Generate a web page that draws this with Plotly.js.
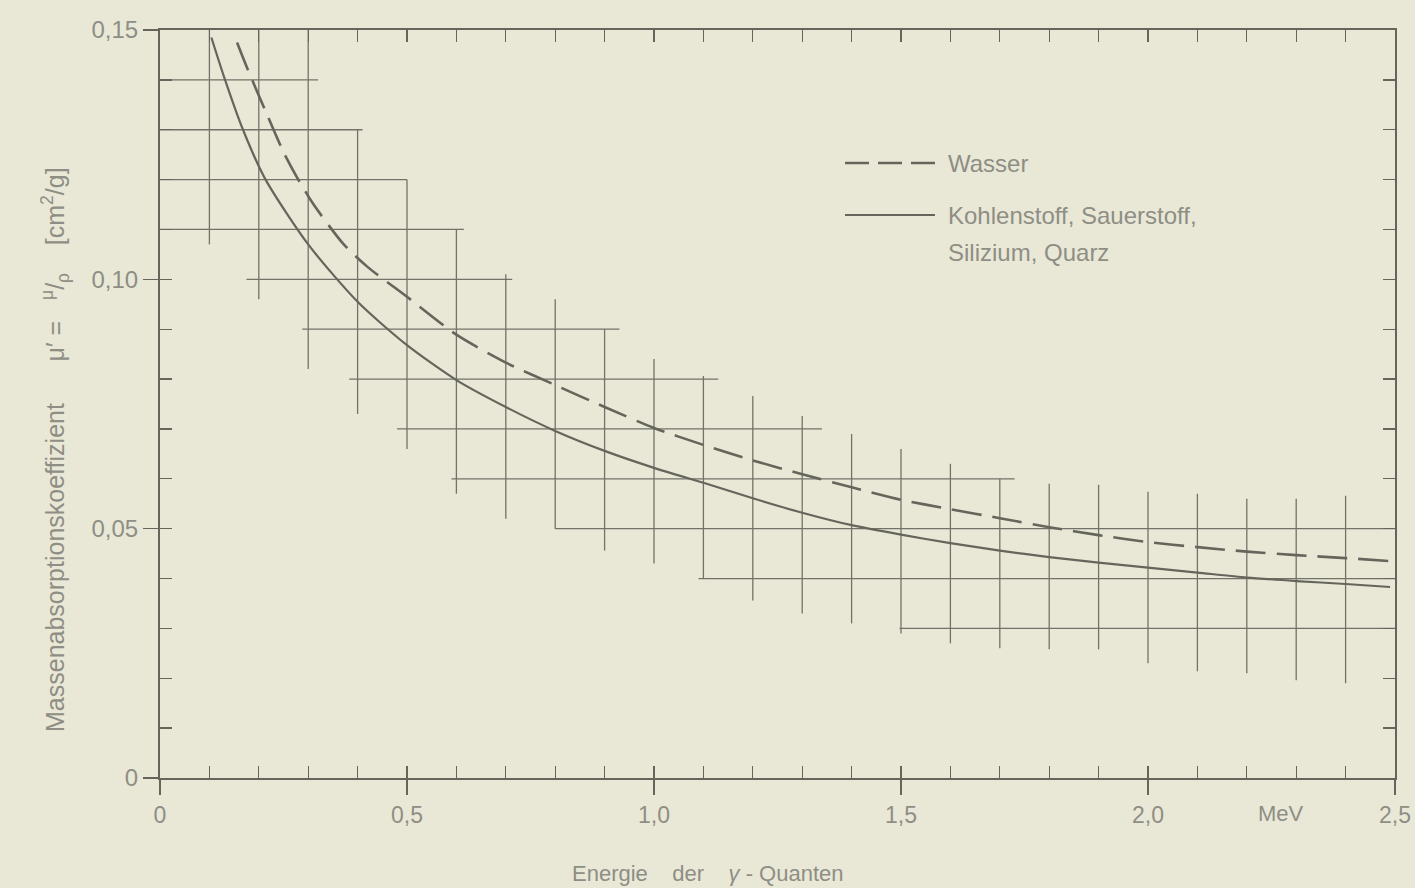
<!DOCTYPE html>
<html>
<head>
<meta charset="utf-8">
<script src="https://cdn.plot.ly/plotly-3.0.1.min.js"></script>
<style>html,body{margin:0;padding:0;background:#e9e8d7;}#chart{width:1415px;height:888px;}</style>
</head>
<body>
<div id="chart"></div>
<script>
// Kohlenstoff, Sauerstoff, Silizium, Quarz (solid)
const energyC = [0.104, 0.13, 0.166, 0.2126, 0.3, 0.4, 0.5, 0.6, 0.7, 0.8, 0.9, 1.0, 1.1, 1.2, 1.3, 1.4, 1.5, 1.6, 1.7, 1.8, 1.9, 2.0, 2.1, 2.2, 2.3, 2.4, 2.49];
const muC     = [0.1485, 0.1405, 0.1305, 0.1202, 0.107, 0.0955, 0.0868, 0.0798, 0.0744, 0.0696, 0.0656, 0.0622, 0.0592, 0.0561, 0.0532, 0.0507, 0.0488, 0.0471, 0.0456, 0.0443, 0.0432, 0.0422, 0.0412, 0.0402, 0.0395, 0.0389, 0.0383];
// Wasser (dashed)
const energyW = [0.156, 0.178, 0.2125, 0.25, 0.277, 0.311, 0.372, 0.42, 0.5, 0.6, 0.7, 0.8, 0.9, 1.0, 1.1, 1.2, 1.3, 1.4, 1.5, 1.6, 1.7, 1.8, 1.9, 2.0, 2.1, 2.2, 2.3, 2.4, 2.49];
const muW     = [0.1475, 0.1420, 0.1340, 0.1255, 0.1205, 0.1150, 0.1070, 0.1025, 0.0965, 0.0889, 0.0833, 0.0788, 0.0744, 0.0702, 0.0668, 0.0637, 0.0609, 0.0583, 0.0558, 0.0539, 0.0521, 0.0503, 0.0487, 0.0473, 0.0463, 0.0454, 0.0447, 0.0441, 0.0435];

// staircase grid: vertical segments
const vGridX    = [0.1, 0.2, 0.3, 0.4, 0.5, 0.6, 0.7, 0.8, 0.9, 1.0, 1.1, 1.2, 1.3, 1.4, 1.5, 1.6, 1.7, 1.8, 1.9, 2.0, 2.1, 2.2, 2.3, 2.4];
const vGridLow  = [0.107, 0.096, 0.082, 0.073, 0.066, 0.057, 0.052, 0.050, 0.0456, 0.043, 0.040, 0.0356, 0.033, 0.031, 0.029, 0.027, 0.026, 0.0258, 0.0258, 0.023, 0.0214, 0.021, 0.0196, 0.019];
const vGridHigh = [0.15, 0.15, 0.15, 0.13, 0.12, 0.11, 0.101, 0.096, 0.090, 0.084, 0.0806, 0.0766, 0.0726, 0.069, 0.066, 0.063, 0.060, 0.059, 0.0588, 0.0574, 0.057, 0.056, 0.056, 0.0566];
// staircase grid: horizontal segments
const hGridY     = [0.14, 0.13, 0.12, 0.11, 0.10, 0.09, 0.08, 0.07, 0.06, 0.05, 0.04, 0.03];
const hGridStart = [0, 0, 0, 0, 0.175, 0.288, 0.383, 0.48, 0.59, 0.80, 1.09, 1.497];
const hGridEnd   = [0.32, 0.41, 0.50, 0.615, 0.713, 0.93, 1.13, 1.34, 1.73, 2.5, 2.5, 2.5];

const xTickVals = [0, 0.5, 1.0, 1.5, 2.0, 2.5];
const xTickText = ['0', '0,5', '1,0', '1,5', '2,0', '2,5'];
const yTickVals = [0, 0.05, 0.10, 0.15];
const yTickText = ['0', '0,05', '0,10', '0,15'];

const ink = '#65655b';
const gridInk = '#727268';
const textInk = '#8e8e84';
const font = 'Liberation Sans, Arial, sans-serif';

const gx = [], gy = [];
vGridX.forEach((x, i) => { gx.push(x, x, null); gy.push(vGridLow[i], vGridHigh[i], null); });
hGridY.forEach((y, i) => { gx.push(hGridStart[i], hGridEnd[i], null); gy.push(y, y, null); });

const traces = [
  {x: gx, y: gy, mode: 'lines', line: {color: gridInk, width: 1.3}, hoverinfo: 'skip', showlegend: false, connectgaps: false},
  {x: energyW, y: muW, mode: 'lines', name: 'Wasser', line: {color: ink, width: 2.6, dash: '30px,11px', shape: 'spline', smoothing: 0.7}, showlegend: false},
  {x: energyC, y: muC, mode: 'lines', name: 'Kohlenstoff, Sauerstoff, Silizium, Quarz', line: {color: ink, width: 2.2, shape: 'spline', smoothing: 0.7}, showlegend: false},
  {x: [null], y: [null], xaxis: 'x2', yaxis: 'y2', mode: 'lines', hoverinfo: 'skip', showlegend: false}
];

const L = 160, R = 1395, T = 30, B = 778;
const px = v => (v - L) / (R - L);
const py = v => (B - v) / (B - T);

const layout = {
  width: 1415, height: 888,
  margin: {l: L, r: 1415 - R, t: T, b: 888 - B},
  paper_bgcolor: '#e9e8d7', plot_bgcolor: '#e9e8d7',
  showlegend: false,
  xaxis: {range: [0, 2.5], tickvals: xTickVals, ticktext: xTickText, ticks: 'outside', ticklen: 15, tickwidth: 1.3, tickcolor: ink,
          showline: true, linecolor: ink, linewidth: 2, mirror: true, showgrid: false, zeroline: false,
          tickfont: {family: font, size: 23, color: textInk}, fixedrange: true},
  yaxis: {range: [0, 0.15], tickvals: yTickVals, ticktext: yTickText, ticks: 'outside', ticklen: 15, tickwidth: 1.3, tickcolor: ink,
          showline: true, linecolor: ink, linewidth: 2, mirror: true, showgrid: false, zeroline: false,
          tickfont: {family: font, size: 24, color: textInk}, fixedrange: true},
  xaxis2: {overlaying: 'x', anchor: 'y2', side: 'bottom', range: [0, 2.5], dtick: 0.1, tick0: 0, ticks: 'inside', ticklen: 12, tickwidth: 1.3, tickcolor: ink,
           showticklabels: false, showline: false, mirror: 'ticks', showgrid: false, zeroline: false},
  yaxis2: {overlaying: 'y', anchor: 'x2', side: 'left', range: [0, 0.15], dtick: 0.01, tick0: 0, ticks: 'inside', ticklen: 12, tickwidth: 1.3, tickcolor: ink,
           showticklabels: false, showline: false, mirror: 'ticks', showgrid: false, zeroline: false},
  shapes: [
    {type: 'line', xref: 'paper', yref: 'paper', x0: px(845), x1: px(935), y0: py(163), y1: py(163), line: {color: ink, width: 2.6, dash: '24px,9px'}},
    {type: 'line', xref: 'paper', yref: 'paper', x0: px(845), x1: px(935), y0: py(215), y1: py(215), line: {color: ink, width: 2.2}}
  ],
  annotations: [
    {xref: 'paper', yref: 'paper', x: px(946), y: py(163), xanchor: 'left', yanchor: 'middle', showarrow: false, text: 'Wasser', font: {family: font, size: 24, color: textInk}},
    {xref: 'paper', yref: 'paper', x: px(946), y: py(215), xanchor: 'left', yanchor: 'middle', showarrow: false, text: 'Kohlenstoff, Sauerstoff,', font: {family: font, size: 24, color: textInk}},
    {xref: 'paper', yref: 'paper', x: px(946), y: py(253), xanchor: 'left', yanchor: 'middle', showarrow: false, text: 'Silizium, Quarz', font: {family: font, size: 24, color: textInk}},
    {xref: 'x', yref: 'paper', x: 2.27, y: py(813), xanchor: 'center', yanchor: 'middle', showarrow: false, text: 'MeV', font: {family: font, size: 22, color: textInk}},
    {xref: 'paper', yref: 'paper', x: px(707), y: py(873), xanchor: 'center', yanchor: 'middle', showarrow: false, text: 'Energie&nbsp;&nbsp;&nbsp;&nbsp;der&nbsp;&nbsp;&nbsp;&nbsp;<i>γ</i> - Quanten', font: {family: font, size: 22, color: textInk}},
    {xref: 'paper', yref: 'paper', x: px(55), y: py(450), xanchor: 'center', yanchor: 'middle', textangle: -90, showarrow: false,
     text: 'Massenabsorptionskoeffizient&nbsp;&nbsp;&nbsp;&nbsp;&nbsp;&nbsp;μ′ =&nbsp;&nbsp;&nbsp;<sup>μ</sup>/<sub>ρ</sub>&nbsp;&nbsp;&nbsp;&nbsp;[cm<sup>2</sup>/g]', font: {family: font, size: 25, color: textInk}}
  ]
};

Plotly.newPlot('chart', traces, layout, {displayModeBar: false, staticPlot: true});
</script>
</body>
</html>
